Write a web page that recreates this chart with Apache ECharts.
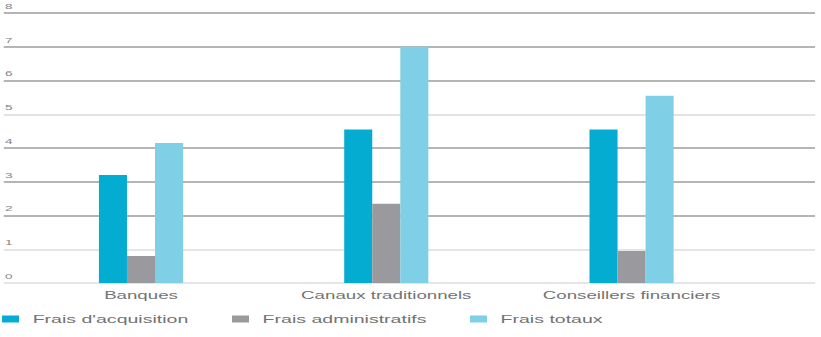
<!DOCTYPE html>
<html>
<head>
<meta charset="utf-8">
<title>Frais par canal de distribution</title>
<script src="https://cdn.jsdelivr.net/npm/echarts@6/dist/echarts.min.js"></script>
<style>
  html, body { margin: 0; padding: 0; background: #ffffff; overflow: hidden; }
  /* The chart is laid out narrow and widened horizontally, giving the wide lettering of the print edition */
  #chart {
    width: 483px;
    height: 337px;
    transform: scaleX(1.6998);
    transform-origin: 0 0;
  }
</style>
</head>
<body>
<div id="chart"></div>
<script>
// Categories and values
const categories = ['Banques', 'Canaux traditionnels', 'Conseillers financiers'];
const seriesNames = ["Frais d'acquisition", 'Frais administratifs', 'Frais totaux'];
const fraisAcquisition = [3.2, 4.55, 4.55];
const fraisAdministratifs = [0.8, 2.35, 0.95];
const fraisTotaux = [4.15, 7.0, 5.55];
const yMin = 0;
const yMax = 8;
const yStep = 1;

const colors = ['#05acd1', '#9a9a9e', '#7fcfe6'];
const fontFamily = "'Liberation Sans', Arial, sans-serif";

// Gridline shades, from 0 up to 8
const gridShades = ['#dcdcdc', '#dcdcdc', '#9c9c9c', '#9c9c9c', '#9c9c9c',
                    '#dadada', '#9c9c9c', '#9c9c9c', '#9c9c9c'];

const chart = echarts.init(document.getElementById('chart'), null, { renderer: 'svg' });

const values = [fraisAcquisition, fraisAdministratifs, fraisTotaux];

function legendAt(index, left) {
  return {
    left: left,
    top: 313,
    padding: 0,
    itemWidth: 10,
    itemHeight: 7,
    itemGap: 0,
    icon: 'rect',
    selectedMode: false,
    data: [seriesNames[index]],
    textStyle: {
      color: '#727272',
      fontSize: 11.5,
      lineHeight: 12,
      fontFamily: fontFamily,
      padding: [0, 0, 0, 3]
    }
  };
}

chart.setOption({
  animation: false,
  backgroundColor: '#ffffff',
  color: colors,
  grid: [
    // full-width grid carrying the horizontal rules and their labels
    { left: 0, right: 3.5, top: 13, bottom: 54 },
    // grid holding the bar groups
    { left: 10.8, right: 39.3, top: 13, bottom: 54 }
  ],
  xAxis: [
    { gridIndex: 0, type: 'value', show: false, min: 0, max: 1 },
    {
      gridIndex: 1,
      type: 'category',
      data: categories,
      axisLine: { show: false },
      axisTick: { show: false },
      axisLabel: {
        margin: 7,
        color: '#737373',
        fontSize: 11,
        fontFamily: fontFamily
      }
    }
  ],
  yAxis: [
    {
      gridIndex: 0,
      type: 'value',
      min: yMin,
      max: yMax,
      interval: yStep,
      axisLine: { show: false },
      axisTick: { show: false },
      axisLabel: {
        inside: true,
        margin: 0.8,
        verticalAlign: 'bottom',
        padding: [0, 0, 3, 0],
        color: '#858585',
        fontSize: 8,
        fontFamily: fontFamily
      },
      splitLine: {
        show: true,
        lineStyle: { color: gridShades, width: 1.6 }
      }
    },
    { gridIndex: 1, type: 'value', min: yMin, max: yMax, interval: yStep, show: false }
  ],
  legend: [legendAt(0, 1.2), legendAt(1, 136.5), legendAt(2, 276.5)],
  series: seriesNames.map((name, i) => ({
    name: name,
    type: 'bar',
    xAxisIndex: 1,
    yAxisIndex: 1,
    barWidth: 16.5,
    barGap: '0%',
    itemStyle: { color: colors[i] },
    data: values[i]
  }))
});
</script>
</body>
</html>
